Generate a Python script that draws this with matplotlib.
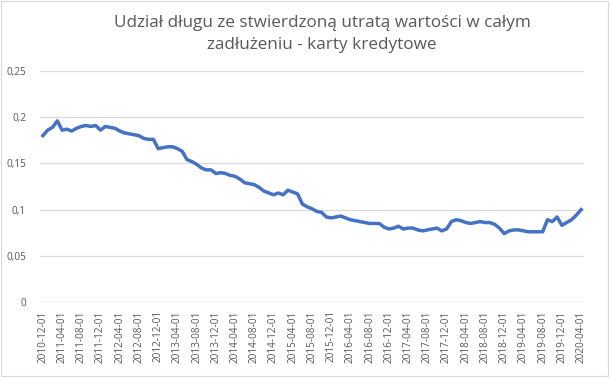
import matplotlib
matplotlib.use("Agg")
import matplotlib.pyplot as plt
from matplotlib.patches import Rectangle

title = "Udział długu ze stwierdzoną utratą wartości w całym\nzadłużeniu - karty kredytowe"

start_year, start_month, n_months = 2010, 12, 113
dates = []
y, m = start_year, start_month
for _ in range(n_months):
    dates.append(f"{y:04d}-{m:02d}-01")
    m += 1
    if m > 12:
        m = 1
        y += 1

values = [
    0.180, 0.186, 0.189, 0.196, 0.186, 0.187, 0.185, 0.188, 0.190, 0.191, 0.190, 0.191,
    0.186, 0.190, 0.189, 0.188, 0.185, 0.183, 0.182, 0.181, 0.180, 0.177, 0.176, 0.176,
    0.166, 0.167, 0.168, 0.168, 0.166, 0.163, 0.154, 0.152, 0.149, 0.145, 0.143, 0.143,
    0.139, 0.140, 0.139, 0.137, 0.136, 0.133, 0.129, 0.128, 0.127, 0.124, 0.120, 0.118,
    0.116, 0.118, 0.116, 0.121, 0.119, 0.117, 0.106, 0.103, 0.101, 0.098, 0.097, 0.092,
    0.091, 0.092, 0.093, 0.091, 0.089, 0.088, 0.087, 0.086, 0.085, 0.085, 0.085, 0.081,
    0.079, 0.080, 0.082, 0.079, 0.080, 0.080, 0.078, 0.077, 0.078, 0.079, 0.080, 0.077,
    0.079, 0.087, 0.089, 0.088, 0.086, 0.085, 0.086, 0.087, 0.086, 0.086, 0.084, 0.080,
    0.074, 0.077, 0.078, 0.078, 0.077, 0.076, 0.076, 0.076, 0.076, 0.089, 0.087, 0.092,
    0.083, 0.086, 0.089, 0.094, 0.100,
]

y_ticks = [0, 0.05, 0.1, 0.15, 0.2, 0.25]
y_tick_labels = ["0", "0,05", "0,1", "0,15", "0,2", "0,25"]

plt.rcParams['font.family'] = ['Open Sans', 'DejaVu Sans']

fig = plt.figure(figsize=(6.10, 3.77), dpi=100)
fig.patches.append(Rectangle((0.002, 0.003), 0.995, 0.994, transform=fig.transFigure,
                             fill=False, edgecolor="#d9d9d9", linewidth=0.8))
ax = fig.add_axes([40/610, 1 - 302/377, 544/610, 231/377])

xs = list(range(len(values)))
ax.plot(xs, values, color="#4472C4", linewidth=2.5, solid_joinstyle="round", zorder=3)

ax.set_ylim(0, 0.25)
ax.set_xlim(-0.6, len(values) - 1 + 0.6)
ax.set_yticks(y_ticks)
ax.set_yticklabels(y_tick_labels)
tick_idx = list(range(0, len(values), 4))
ax.set_xticks(tick_idx)
ax.set_xticklabels([dates[i] for i in tick_idx], rotation=90)
ax.tick_params(axis="both", length=0, labelsize=7.2, colors="#595959")
ax.tick_params(axis="x", pad=6)
ax.tick_params(axis="y", pad=10)
ax.grid(axis="y", color="#d9d9d9", linewidth=0.9)
for s in ax.spines.values():
    s.set_visible(False)
ax.axhline(0, color="#d9d9d9", linewidth=0.9)

fig.text(322/610, 1 - 34/377, title, ha="center", va="center", fontsize=12.3,
         color="#595959", linespacing=1.5)

fig.savefig("out.png", dpi=100)
